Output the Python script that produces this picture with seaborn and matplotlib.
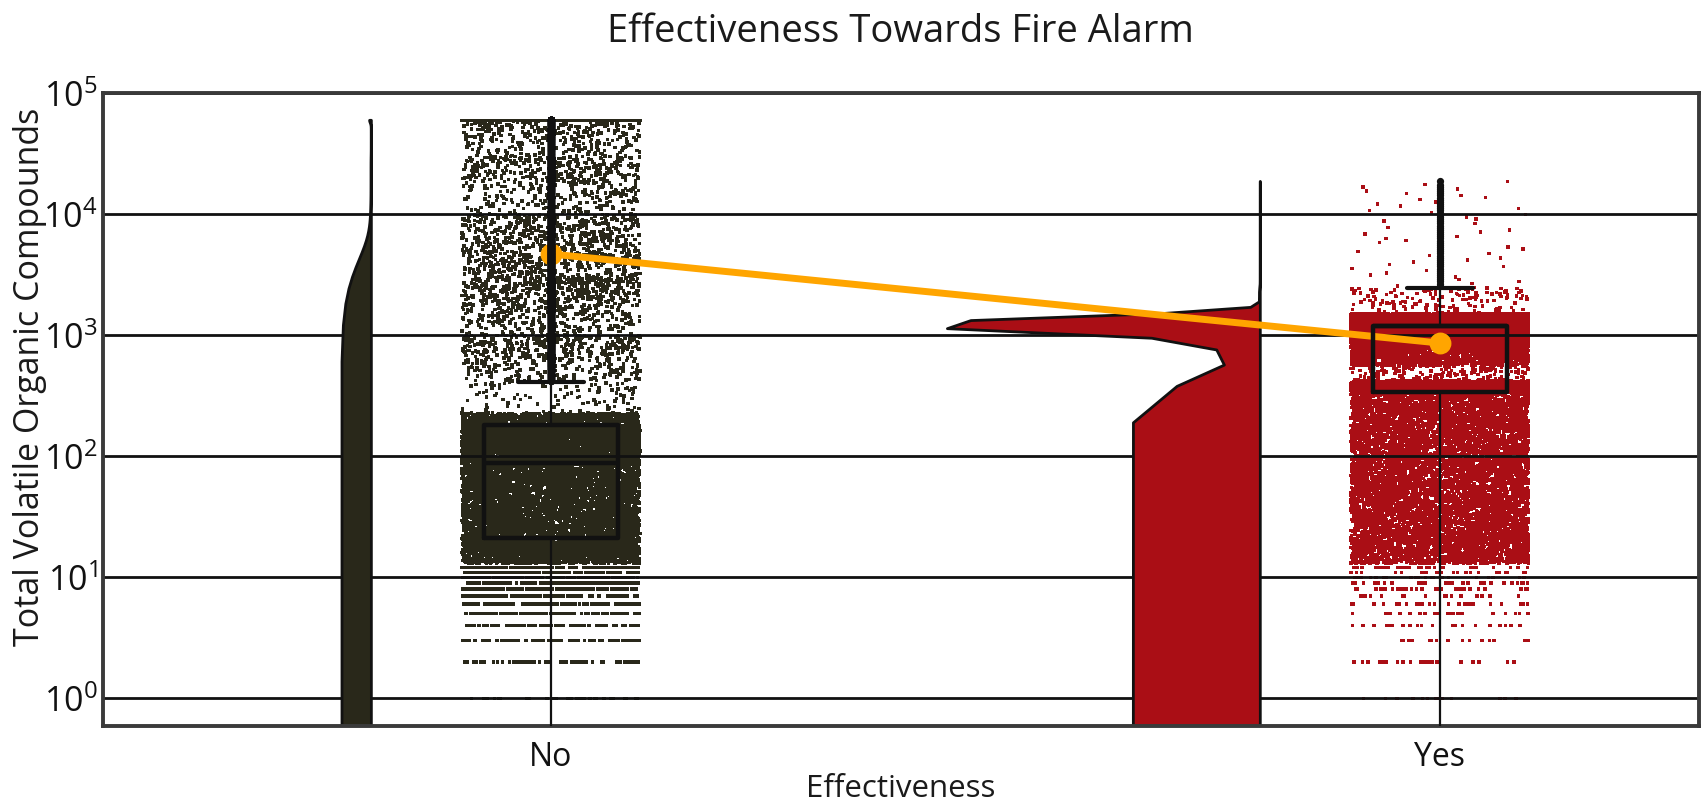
import numpy as np
import pandas as pd
import matplotlib
matplotlib.use("Agg")
import matplotlib.pyplot as plt
from matplotlib.ticker import NullLocator
import seaborn as sns

# ---------------- data ----------------
categories = ["No", "Yes"]
category_colors = ["#29281a", "#aa0e15"]

# "No" group: discrete low readings + value bands (lo, hi, count)
no_levels = [0, 1, 2, 3, 4, 5, 6, 7, 8, 9, 10, 11, 12, 60000]
no_level_counts = [1110, 30, 70, 80, 90, 100, 100, 110, 110, 120, 130, 140, 150, 890]
no_band_lo = [13, 21, 88, 180, 228, 420, 1000, 3000, 10000, 30000]
no_band_hi = [21, 88, 180, 228, 410, 1000, 3000, 10000, 30000, 59000]
no_band_counts = [2128, 4468, 4468, 700, 100, 468, 710, 800, 500, 300]

# "Yes" group
yes_levels = [0, 1, 2, 3, 4, 5, 6, 7, 8, 9, 10, 11, 12, 18753]
yes_level_counts = [2600, 15, 25, 15, 30, 30, 25, 15, 35, 30, 25, 25, 30, 1]
yes_band_lo = [13, 338, 420, 560, 800, 950, 1190, 1205, 1500, 2520]
yes_band_hi = [338, 420, 560, 800, 950, 1190, 1205, 1500, 2480, 18000]
yes_band_counts = [8289, 3133, 150, 1200, 1790, 4917, 11189, 11000, 140, 48]


def expand(levels, level_counts, lo, hi, counts):
    vals = [np.repeat(float(v), c) for v, c in zip(levels, level_counts)]
    for a, b, c in zip(lo, hi, counts):
        frac = (np.arange(c) + 0.5) / c
        if b / a > 3:
            vals.append(a * (b / a) ** frac)       # spread across the band (log)
        else:
            vals.append(a + (b - a) * frac)        # spread across the band (linear)
    return np.concatenate(vals)


no_vals = expand(no_levels, no_level_counts, no_band_lo, no_band_hi, no_band_counts)
yes_vals = expand(yes_levels, yes_level_counts, yes_band_lo, yes_band_hi, yes_band_counts)

df = pd.DataFrame({
    "alarm": ["No"] * len(no_vals) + ["Yes"] * len(yes_vals),
    "tvoc": np.concatenate([no_vals, yes_vals]),
})
df["pos"] = df["alarm"].map({"No": 0.0, "Yes": 1.0})
df["vpos"] = df["pos"] - 0.378

# ---------------- plot ----------------
sns.set_theme(style="white")
plt.rcParams["font.family"] = ["Open Sans", "DejaVu Sans"]
np.random.seed(3)

fig = plt.figure(figsize=(17.04, 8.10), dpi=100)
ax = fig.add_axes([0.0604, 0.1037, 0.9364, 0.7809])

# half violins (clouds)
n0 = len(ax.collections)
sns.violinplot(data=df, x="vpos", y="tvoc", native_scale=True, orient="x",
               split=True, inner=None, cut=0, bw_method=0.2, width=0.352,
               density_norm="area", color=category_colors[0], linecolor="#111111",
               linewidth=2.0, ax=ax, zorder=2)
for coll, c in zip(ax.collections[n0:], category_colors):
    coll.set_facecolor(c)

# rain
sns.stripplot(data=df, x="pos", y="tvoc", hue="alarm", hue_order=categories,
              palette=category_colors, native_scale=True, orient="x", jitter=0.1,
              size=2.5, marker="s", linewidth=0, legend=False, ax=ax, zorder=1)

# boxes
sns.boxplot(data=df, x="pos", y="tvoc", native_scale=True, orient="x", width=0.15,
            fill=False, color="#111111", linewidth=3.2, whis=1.5,
            whiskerprops=dict(linewidth=1.6),
            capprops=dict(linewidth=3.0),
            medianprops=dict(linewidth=3.2),
            flierprops=dict(marker="o", markersize=4.2, markerfacecolor="#111111",
                            markeredgecolor="#111111"),
            ax=ax, zorder=4)

# means
sns.pointplot(data=df, x="pos", y="tvoc", native_scale=True, orient="x",
              estimator="mean", errorbar=("ci", 95), n_boot=200, seed=0,
              color="#FFA500", markers="o", markersize=12, linewidth=5,
              err_kws=dict(linewidth=5, zorder=3), ax=ax, zorder=3)

ax.set_yscale("log")
ax.set_ylim(0.59, 1e5)
ax.set_xlim(-0.504, 1.291)
ax.set_xticks([0, 1])
ax.set_xticklabels(categories)
ax.yaxis.set_minor_locator(NullLocator())

ax.set_axisbelow("line")
ax.yaxis.grid(True, which="major", color="#111111", linewidth=2.0)
ax.xaxis.grid(False)

for s in ax.spines.values():
    s.set_visible(True)
    s.set_color("#3a3a3a")
    s.set_linewidth(2.8)

ax.tick_params(axis="both", length=0, colors="#111111")
ax.tick_params(axis="y", labelsize=24.5, pad=4)
ax.tick_params(axis="x", labelsize=23, pad=11)

ax.set_title("Effectiveness Towards Fire Alarm", fontsize=27.5, pad=37, color="#1a1a1a")
ax.set_xlabel("Effectiveness", fontsize=22.5, labelpad=0, color="#1a1a1a")
ax.set_ylabel("Total Volatile Organic Compounds", fontsize=24.5, color="#1a1a1a")
ax.yaxis.set_label_coords(-0.035, 0.552)

fig.savefig("out.png", dpi=100)
